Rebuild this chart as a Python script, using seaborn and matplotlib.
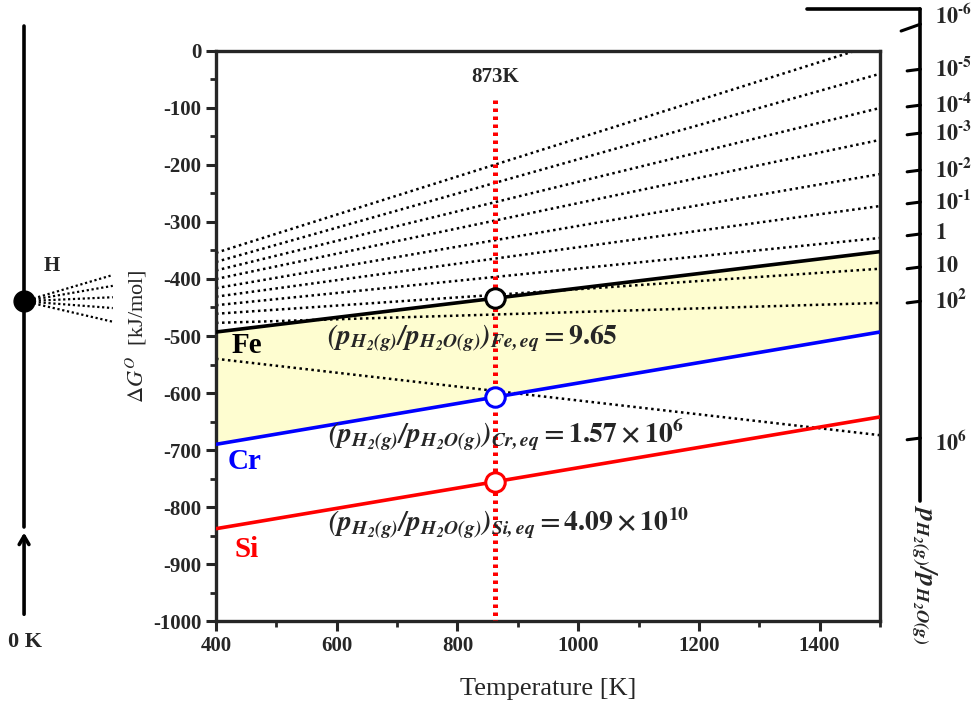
import numpy as np
import pandas as pd
import matplotlib
matplotlib.use("Agg")
import matplotlib.pyplot as plt
import seaborn as sns

# ---------------- data ----------------
T_ends = [400, 1500]
# oxide formation lines, dG (kJ/mol) at 400 K and 1500 K
fe_dg = [-493, -352]
cr_dg = [-690, -493]
si_dg = [-838, -642]
# H2/H2O iso-ratio lines: dG at 400 K and 1500 K
ratio_names = ["1e-6", "1e-5", "1e-4", "1e-3", "1e-2", "1e-1", "1", "10", "1e2", "1e6"]
ratio_dg400 = [-354, -370, -385, -400, -416, -431, -446, -461, -477, -540]
ratio_dg1500 = [14, -40, -100, -156, -216, -272, -328, -382, -442, -674]
# marked temperature and equilibrium points
T_mark = 862
mark_label = "873K"
mark_dg = [-434, -607, -756]
eq_values = [r"9.65", r"1.57\times10^{6}", r"4.09\times10^{10}"]
eq_metals = ["Fe", "Cr", "Si"]
# right nomogram tick labels and dG positions
nomo_labels = ["10^{\u20106}", "10^{\u20105}", "10^{\u20104}", "10^{\u20103}",
               "10^{\u20102}", "10^{\u20101}", "1", "10", "10^{2}", "10^{6}"]
nomo_dg = [42, -32, -95, -144, -209, -265, -321, -379, -439, -679]
# left nomogram fan ends
fan_dg = [-393, -412, -432, -451, -475]

# ---------------- style ----------------
sns.set_style("ticks")
plt.rcParams["font.family"] = ["Liberation Serif", "DejaVu Serif"]
plt.rcParams["mathtext.fontset"] = "stix"
plt.rcParams["axes.unicode_minus"] = False

fig = plt.figure(figsize=(9.77, 7.07), dpi=100)
ax = fig.add_axes([0.2211, 0.1216, 0.6796, 0.8063])

colors = {"Fe": "black", "Cr": "#0000FF", "Si": "#FF0000"}

# fill between Fe and Cr
ax.fill_between(T_ends, fe_dg, cr_dg, color="#FEFDD0", zorder=1, lw=0)

# iso-ratio dotted lines
df_r = pd.DataFrame({
    "T": T_ends * len(ratio_names),
    "dG": [v for pair in zip(ratio_dg400, ratio_dg1500) for v in pair],
    "ratio": [n for n in ratio_names for _ in range(2)],
})
for name, sub in df_r.groupby("ratio", sort=False):
    sns.lineplot(data=sub, x="T", y="dG", ax=ax, color="black", lw=1.8,
                 linestyle=(0, (1, 1.4)), zorder=2, legend=False)

# oxide lines
df_ox = pd.DataFrame({
    "T": T_ends * 3,
    "dG": fe_dg + cr_dg + si_dg,
    "metal": ["Fe"] * 2 + ["Cr"] * 2 + ["Si"] * 2,
})
sns.lineplot(data=df_ox, x="T", y="dG", hue="metal", palette=colors, ax=ax,
             lw=2.6, legend=False, zorder=3)

# vertical marker line
ax.plot([T_mark, T_mark], [-86, -1000], color="#FF0000", lw=3.6,
        linestyle=(0, (0.7, 0.9)), zorder=4, solid_capstyle="butt")
ax.text(T_mark, -46, mark_label, ha="center", va="center", fontsize=15,
        fontweight="bold")

# circles
for m, g in zip(eq_metals, mark_dg):
    ax.plot(T_mark, g, "o", ms=14, mfc="white", mec=colors[m], mew=2.2, zorder=6)

# equations
eq_pos = [(584, -503), (585, -674), (585, -828)]
for m, v, (tx, gy) in zip(eq_metals, eq_values, eq_pos):
    s = (r"$\mathbfit{(p_{H_2(g)}/p_{H_2O(g)})_{" + m + r",eq}}"
         + r"\mathbf{=" + v + r"}$")
    ax.text(tx, gy, s, ha="left", va="center", fontsize=20, zorder=7)

# metal labels
for m, (tx, gy) in zip(eq_metals, [(451, -516), (448, -721), (451, -874)]):
    ax.text(tx, gy, m, color=colors[m], fontsize=21, fontweight="bold",
            ha="center", va="center")

# axes
ax.set_xlim(400, 1500)
ax.set_ylim(-1000, 0)
ax.set_xticks(np.arange(400, 1501, 200))
ax.set_xticks(np.arange(400, 1501, 100), minor=True)
ax.set_yticks(np.arange(-1000, 1, 100))
ax.set_yticks(np.arange(-1000, 1, 50), minor=True)
for sp in ax.spines.values():
    sp.set_linewidth(2.4)
ax.tick_params(which="major", direction="out", length=7, width=2.2,
               labelsize=15)
ax.tick_params(which="minor", direction="out", length=4.5, width=2.0)
for lab in ax.get_xticklabels() + ax.get_yticklabels():
    lab.set_fontweight("bold")
ax.set_xlabel("Temperature [K]", fontsize=19, labelpad=16)
ax.set_ylabel(r"$\mathit{\Delta G^{O}}$  [kJ/mol]", fontsize=16, labelpad=3)

# ---------------- left nomogram ----------------
TL = 82
ax.plot([TL, TL], [44, -835], color="black", lw=2.6, clip_on=False)
ax.annotate("", xy=(TL, -840), xytext=(TL, -993),
            arrowprops=dict(arrowstyle="->,head_length=0.6,head_width=0.35",
                            lw=2.6, color="black"), annotation_clip=False)
ax.plot(TL, -439, "o", ms=15, color="black", clip_on=False, zorder=8)
for g in fan_dg:
    ax.plot([TL, 229], [-439, g], color="black", lw=1.6,
            linestyle=(0, (1, 1.2)), clip_on=False)
ax.text(128, -377, "H", fontsize=15, fontweight="bold", ha="center", va="center")
ax.text(84, -1037, "0 K", fontsize=16, fontweight="bold", ha="center", va="center")

# ---------------- right nomogram ----------------
TR = 1567
ax.plot([TR, TR], [74, -789], color="black", lw=2.6, clip_on=False)
ax.plot([1379, TR], [74, 74], color="black", lw=2.6, clip_on=False)
for i, (lab, g) in enumerate(zip(nomo_labels, nomo_dg)):
    if i == 0:
        ax.plot([1535, TR], [g - 7, g + 5], color="black", lw=2.2, clip_on=False)
        gl = 60
    else:
        ax.plot([1545, TR], [g - 3, g], color="black", lw=2.2, clip_on=False)
        gl = g - 9 if lab == r"10^{6}" else g
    ax.text(1591, gl, r"$\mathbf{" + lab + r"}$", fontsize=16, ha="left",
            va="center")
ax.text(TR + 4, -795, r"$\mathbfit{p_{H_2(g)}/p_{H_2O(g)}}$", rotation=-90,
        fontsize=19, ha="center", va="top")

fig.savefig("out.png", dpi=100)
